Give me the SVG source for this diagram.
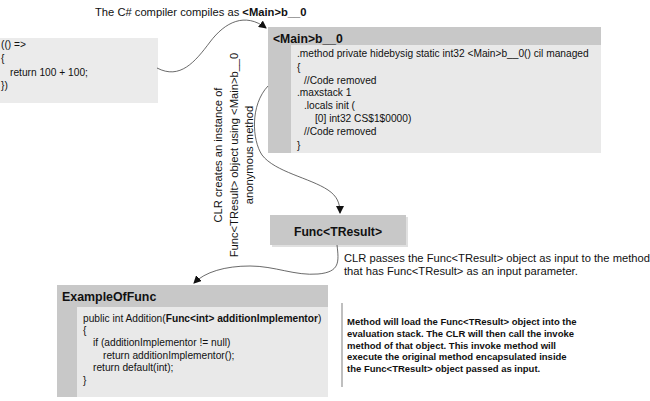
<svg xmlns="http://www.w3.org/2000/svg" width="650" height="401" viewBox="0 0 650 401">
<style>
.code{font-family:"Liberation Sans",Arial,sans-serif;font-size:10.2px;fill:#111}
.title{font-family:"Liberation Sans",Arial,sans-serif;font-weight:bold;fill:#111}
.note{font-family:"Liberation Sans",Arial,sans-serif;font-size:11.2px;fill:#111}
.bnote{font-family:"Liberation Sans",Arial,sans-serif;font-size:9.5px;font-weight:bold;fill:#111}
.dark{fill:#c8c8c8}
.light{fill:#e9e9e9}
.conn{fill:none;stroke:#444;stroke-width:0.8}
</style>
<defs>
<marker id="ah" markerWidth="8" markerHeight="8" refX="7" refY="4" orient="auto" markerUnits="userSpaceOnUse">
<path d="M0,0 L8,4 L0,8 Z" fill="#111"/>
</marker>
</defs>
<rect width="650" height="401" fill="#fff"/>

<text class="note" x="95" y="16">The C# compiler compiles as <tspan font-weight="bold">&lt;Main&gt;b__0</tspan></text>

<g id="lambda">
<rect x="0" y="38" width="158" height="65" fill="#ebebeb"/>
<text class="code" x="1" y="48">(() =&gt;</text>
<text class="code" x="1" y="62">{</text>
<text class="code" x="10" y="76">return 100 + 100;</text>
<text class="code" x="1" y="89">})</text>
</g>

<g id="mainb0">
<rect class="dark" x="268" y="27" width="333" height="126"/>
<rect class="light" x="291" y="45" width="310" height="108"/>
<text class="title" x="273" y="43" font-size="12.2">&lt;Main&gt;b__0</text>
<text class="code" x="297" y="57">.method private hidebysig static int32 &lt;Main&gt;b__0() cil managed</text>
<text class="code" x="297" y="71">{</text>
<text class="code" x="304" y="84">//Code removed</text>
<text class="code" x="297" y="96">.maxstack 1</text>
<text class="code" x="304" y="109">.locals init (</text>
<text class="code" x="315" y="122">[0] int32 CS$1$0000)</text>
<text class="code" x="304" y="135">//Code removed</text>
<text class="code" x="297" y="149">}</text>
</g>

<g id="clr-creates">
<text class="note" text-anchor="middle" transform="translate(222,155) rotate(-90)">CLR creates an instance of</text>
<text class="note" text-anchor="middle" transform="translate(238,155) rotate(-90)">Func&lt;TResult&gt; object using &lt;Main&gt;b__0</text>
<text class="note" text-anchor="middle" transform="translate(253,155) rotate(-90)">anonymous method</text>
</g>

<g id="func">
<rect x="272" y="217" width="136" height="30" fill="#e0e0e0"/>
<rect class="dark" x="270" y="215" width="136" height="30"/>
<text class="title" x="338" y="236" font-size="12.2" text-anchor="middle">Func&lt;TResult&gt;</text>
</g>

<g id="clr-passes">
<text class="note" x="344" y="262" font-size="10.6">CLR passes the Func&lt;TResult&gt; object as input to the method</text>
<text class="note" x="344" y="275" font-size="10.6">that has Func&lt;TResult&gt; as an input parameter.</text>
</g>

<g id="exampleoffunc">
<rect class="dark" x="57" y="285" width="271" height="112"/>
<rect class="light" x="77" y="307" width="251" height="90"/>
<text class="title" x="62" y="301" font-size="12.4">ExampleOfFunc</text>
<text class="code" x="83" y="322">public int Addition(<tspan font-weight="bold">Func&lt;int&gt; additionImplementor</tspan>)</text>
<text class="code" x="83" y="334">{</text>
<text class="code" x="93" y="346">if (additionImplementor != null)</text>
<text class="code" x="103" y="359">return additionImplementor();</text>
<text class="code" x="93" y="371">return default(int);</text>
<text class="code" x="83" y="384">}</text>
</g>

<g id="method-note">
<line x1="342" y1="303" x2="342" y2="387" stroke="#aaa" stroke-width="1.5"/>
<text class="bnote" x="347" y="325">Method will load the Func&lt;TResult&gt; object into the</text>
<text class="bnote" x="347" y="337">evaluation stack. The CLR will then call the invoke</text>
<text class="bnote" x="347" y="349">method of that object. This invoke method will</text>
<text class="bnote" x="347" y="360">execute the original method encapsulated inside</text>
<text class="bnote" x="347" y="372">the Func&lt;TResult&gt; object passed as input.</text>
</g>

<g id="connectors">
<path class="conn" d="M157,68 C180,80 195,62 210,42 C225,22 245,12 266,28" marker-end="url(#ah)"/>
<path class="conn" d="M268,86 C250,105 252,140 262,155 C275,172 310,178 328,190 C337,196 340,203 340,213" marker-end="url(#ah)"/>
<path class="conn" d="M337,245 C339,262 340,272 318,274 C295,276 275,266 250,266 C225,266 205,272 194,283" marker-end="url(#ah)"/>
</g>
</svg>
